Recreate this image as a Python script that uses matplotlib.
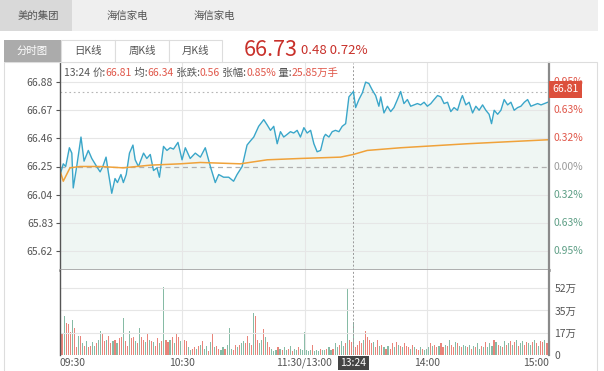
import matplotlib.pyplot as plt
import numpy as np
from matplotlib.patches import Rectangle

plt.rcParams['font.family'] = ['Noto Sans CJK SC', 'DejaVu Sans']

# ---- data ----
prev_close = 66.25
last_price = 66.73
chg, chg_pct = "0.48", "0.72%"

# price trace: minute index from 09:30 (trading minutes) and price
price_t = [0.3, 1.6, 2.8, 4.6, 5.8, 6.5, 8.2, 10.3, 11.8, 13.9, 15.6, 18.0, 19.7, 21.0,
           22.6, 23.8, 25.4, 27.0, 28.2, 29.9, 31.1, 32.5, 34.1, 35.8, 36.9, 38.5, 41.0,
           42.6, 44.3, 45.9, 47.6, 48.8, 50.8, 52.5, 54.1, 55.7, 57.9, 59.9, 61.5, 63.9,
           66.4, 68.9, 71.3, 73.8, 76.2, 77.9, 80.3, 82.8, 85.2, 86.9, 89.4, 91.8, 93.4,
           95.1, 97.5, 100.0, 101.7, 103.3, 104.9, 106.6, 108.2, 109.8, 111.5, 113.1,
           114.7, 116.4, 118.0, 119.7, 121.3, 123.0, 124.6, 126.2, 127.9, 129.5, 130.3,
           132.0, 133.6, 135.2, 136.9, 138.5, 140.2, 141.8, 144.0, 145.1, 146.7, 148.4,
           150.0, 151.6, 153.3, 154.9, 156.5, 157.4, 159.0, 160.7, 162.3, 163.9, 165.6,
           167.2, 168.8, 170.5, 172.1, 173.8, 175.4, 177.0, 178.7, 180.3, 182.0, 183.6,
           185.3, 186.9, 188.5, 190.2, 191.8, 193.4, 195.1, 196.7, 197.5, 199.2, 200.8,
           202.5, 204.1, 205.7, 207.4, 209.0, 210.6, 211.8, 213.1, 214.8, 216.4, 218.0,
           219.7, 221.3, 222.9, 224.6, 226.2, 227.9, 229.5, 231.1, 232.8, 234.4, 236.1,
           237.7, 239.4, 240.0]
price_v = [66.20, 66.27, 66.25, 66.39, 66.35, 66.09, 66.25, 66.47, 66.29, 66.37, 66.31,
           66.25, 66.21, 66.25, 66.32, 66.20, 66.05, 66.16, 66.13, 66.19, 66.13, 66.19,
           66.35, 66.41, 66.30, 66.25, 66.35, 66.31, 66.34, 66.22, 66.24, 66.17, 66.40,
           66.37, 66.39, 66.38, 66.43, 66.30, 66.39, 66.31, 66.35, 66.32, 66.39, 66.25,
           66.13, 66.19, 66.17, 66.17, 66.14, 66.19, 66.25, 66.41, 66.44, 66.47, 66.55,
           66.60, 66.56, 66.52, 66.55, 66.42, 66.51, 66.47, 66.49, 66.51, 66.50, 66.52,
           66.47, 66.54, 66.50, 66.52, 66.42, 66.36, 66.37, 66.47, 66.49, 66.47, 66.51,
           66.52, 66.51, 66.55, 66.57, 66.77, 66.81, 66.69, 66.75, 66.80, 66.88, 66.87,
           66.82, 66.78, 66.70, 66.77, 66.65, 66.70, 66.66, 66.69, 66.75, 66.81, 66.72,
           66.75, 66.70, 66.71, 66.72, 66.71, 66.73, 66.70, 66.72, 66.75, 66.78, 66.77,
           66.72, 66.73, 66.66, 66.69, 66.67, 66.75, 66.78, 66.71, 66.73, 66.65, 66.70,
           66.67, 66.71, 66.67, 66.64, 66.57, 66.67, 66.64, 66.67, 66.75, 66.71, 66.73,
           66.67, 66.69, 66.70, 66.73, 66.75, 66.70, 66.71, 66.72, 66.71, 66.72, 66.73,
           66.73]

# average price trace
avg_t = [0.0, 1.6, 4.9, 9.8, 19.7, 31.0, 44.3, 59.0, 68.9, 88.5, 101.7, 118.0, 137.7,
         144.0, 150.8, 167.2, 200.0, 240.0]
avg_v = [66.22, 66.14, 66.24, 66.25, 66.25, 66.24, 66.26, 66.27, 66.28, 66.27, 66.30,
         66.31, 66.32, 66.34, 66.37, 66.39, 66.42, 66.45]

# volume per minute, 万手 (09:30 .. 11:30, 13:01 .. 15:00)
volume = [29, 17, 30, 25, 24, 18, 27, 21, 6, 15,
          15, 9, 7, 11, 6, 7, 10, 7, 9, 12,
          19, 16, 11, 12, 15, 9, 11, 12, 9, 13,
          14, 29, 11, 7, 19, 13, 14, 11, 9, 21,
          14, 12, 10, 17, 12, 11, 10, 7, 13, 9,
          11, 53, 12, 10, 12, 14, 9, 17, 14, 11,
          14, 12, 11, 6, 4, 5, 6, 5, 7, 8,
          11, 5, 7, 3, 10, 16, 6, 7, 5, 4,
          6, 5, 8, 21, 5, 4, 8, 6, 8, 9,
          11, 9, 15, 9, 8, 33, 30, 12, 9, 12,
          20, 14, 10, 6, 5, 3, 4, 6, 5, 4,
          6, 4, 5, 7, 3, 5, 4, 6, 5, 4,
          18,
          4, 3, 4, 8, 3, 4, 3, 5, 4, 4,
          5, 6, 4, 5, 9, 6, 8, 11, 7, 9,
          52, 12, 10, 26, 6, 8, 11, 9, 12, 19,
          14, 12, 9, 10, 6, 12, 7, 8, 6, 5,
          7, 5, 9, 6, 10, 8, 7, 6, 9, 7,
          6, 5, 8, 6, 5, 4, 6, 5, 4, 5,
          6, 9, 7, 8, 6, 7, 9, 6, 8, 7,
          12, 8, 6, 10, 9, 7, 6, 8, 7, 6,
          8, 5, 7, 6, 9, 5, 7, 6, 10, 6,
          9, 7, 12, 10, 8, 7, 6, 11, 8, 9,
          11, 8, 10, 12, 7, 9, 11, 8, 10, 9,
          8, 10, 12, 9, 7, 11, 10, 12, 9, 53]
vol_dir = ("grgrrrgrrg" "rgrgrrggrg" "grrgrrgrgr" "rgrrgrrgrg" "rrgrgrgrrg" "rgrrgrgrrg"
           "grrggrrgrg" "rggrgrgrrg" "grgggrrgrg" "grrgrgrrgg" "rgrrgggrgr" "ggrgrggrgg"
           "g"
           "gggrgggrgg" "rggrggrggr" "grrgrrrrgr" "rrrgrrgrgr" "grrgrgrgrr" "rgrgrrgrgg"
           "grgrrgrrgr" "grrgrgrggr" "grgrggrgrg" "ggrgrgrgrg" "rgrgrggrrg" "grgrgrrgrg")

price_ticks = [66.88, 66.67, 66.46, 66.25, 66.04, 65.83, 65.62]
pct_labels = ["0.95%", "0.63%", "0.32%", "0.00%", "0.32%", "0.63%", "0.95%"]
vol_ticks = [0, 17.3, 34.7, 52.0]
vol_labels = ["0", "17万", "35万", "52万"]
time_ticks = [0, 60, 120, 180, 240]
time_labels = ["09:30", "10:30", "11:30/13:00", "14:00", "15:00"]

cursor_t = 144
cursor_price = 66.81
cursor_label = "13:24"
info = [("13:24 ", "#555555"), ("价:", "#555555"), ("66.81", "#e0574a"),
        (" 均:", "#555555"), ("66.34", "#e0574a"), (" 张跌:", "#555555"),
        ("0.56", "#e0574a"), (" 张幅:", "#555555"), ("0.85%", "#e0574a"),
        (" 量:", "#555555"), ("25.85万手", "#e0574a")]

# ---- colors ----
RED = "#e0574a"
GREEN = "#5d9e85"
LINE = "#3aa6c9"
AVG = "#f0a23a"
GRID = "#e6e6e6"

W, H = 604, 371
fig = plt.figure(figsize=(W / 100, H / 100), dpi=100)


def fx(x):
    return x / W


def fy(y):
    return 1 - y / H


def rect(x0, y0, x1, y1, **kw):
    fig.patches.append(Rectangle((fx(x0), fy(y1)), fx(x1) - fx(x0), fy(y0) - fy(y1),
                                 transform=fig.transFigure, **kw))


# top tab bar
rect(0, 0, 598, 31, facecolor="#efefef", edgecolor="none")
rect(0, 0, 72, 31, facecolor="#d9d9d9", edgecolor="none")
fig.text(fx(38), fy(16), "美的集团", ha="center", va="center", fontsize=7.5, color="#555555")
fig.text(fx(127), fy(16), "海信家电", ha="center", va="center", fontsize=7.5, color="#555555")
fig.text(fx(214), fy(16), "海信家电", ha="center", va="center", fontsize=7.5, color="#555555")

# second row tabs
rect(4, 62, 597, 380, facecolor="none", edgecolor="#dddddd", lw=0.8)
rect(4, 40, 61, 62, facecolor="#ababab", edgecolor="none")
fig.text(fx(32), fy(51), "分时图", ha="center", va="center", fontsize=7.5, color="white")
for x0, x1, lab in [(61, 115, "日K线"), (115, 169, "周K线"), (169, 222, "月K线")]:
    rect(x0, 40, x1, 62, facecolor="white", edgecolor="#dddddd", lw=0.8)
    fig.text(fx((x0 + x1) / 2), fy(51), lab, ha="center", va="center", fontsize=7.5,
             color="#555555")
fig.text(fx(244), fy(50), f"{last_price:.2f}", ha="left", va="center", fontsize=15.5,
         color="#c8302a")
fig.text(fx(301), fy(51), f"{chg} {chg_pct}", ha="left", va="center", fontsize=9.5,
         color="#c8302a")

# ---- price axes ----
ppx = 133.9  # px per yuan
ylo = prev_close - (270 - 166.5) / ppx
yhi = prev_close + (166.5 - 63) / ppx
ax = fig.add_axes([fx(60), fy(270), fx(549) - fx(60), fy(63) - fy(270)])
ax.set_xlim(0, 240)
ax.set_ylim(ylo, yhi)
ax.fill_between(price_t, price_v, ylo, color="#eff6f3", lw=0)
for p in price_ticks:
    if p == prev_close:
        ax.axhline(p, color="#b0b0b0", lw=0.9, ls=(0, (4, 3)))
    else:
        ax.axhline(p, color=GRID, lw=0.8)
for t in time_ticks[1:4]:
    ax.axvline(t, color=GRID, lw=0.8)
ax.axhline(cursor_price, color="#b5b5b5", lw=0.8, ls=(0, (1.5, 2.5)))
ax.axvline(cursor_t, color="#999999", lw=0.7, ls=(0, (2, 2)))
ax.plot(price_t, price_v, color=LINE, lw=1.0)
ax.plot(avg_t, avg_v, color=AVG, lw=1.1)

ax.set_xticks([])
ax.set_yticks(price_ticks)
ax.set_yticklabels([f"{p:.2f}" for p in price_ticks])
ax.tick_params(axis="y", length=3, width=0.8, color="#555555", labelsize=7.5,
               labelcolor="#555555", pad=2)
ax.spines["left"].set_color("#555555")
ax.spines["left"].set_linewidth(1)
ax.spines["right"].set_color("#8a8a8a")
ax.spines["right"].set_linewidth(1.6)
ax.spines["bottom"].set_color("#a8a8a8")
ax.spines["bottom"].set_linewidth(2)
ax.spines["top"].set_visible(False)

for p, lab in zip(price_ticks, pct_labels):
    c = RED if p > prev_close else (GREEN if p < prev_close else "#9a9a9a")
    ax.annotate(lab, xy=(1, p), xycoords=("axes fraction", "data"), xytext=(3, 0),
                textcoords="offset points", ha="left", va="center", fontsize=7.5, color=c)
ax.annotate(f"{cursor_price:.2f}", xy=(1, cursor_price), xycoords=("axes fraction", "data"),
            xytext=(2.5, 1.5), textcoords="offset points", ha="left", va="center",
            fontsize=7.5, color="white",
            bbox=dict(boxstyle="square,pad=0.3", fc="#dc4f3c", ec="none"))

# info line at top of price area
renderer = fig.canvas.get_renderer()
xpos = 64
for s, c in info:
    tx = fig.text(fx(xpos), fy(73), s, ha="left", va="center", fontsize=7.5, color=c)
    xpos += tx.get_window_extent(renderer).width

# ---- volume axes ----
vx = np.arange(len(volume))
vcol = ["#e9847a" if d == "r" else "#86bba5" for d in vol_dir]
av = fig.add_axes([fx(60), fy(355), fx(549) - fx(60), fy(270) - fy(355)])
av.set_xlim(0, 240)
av.set_ylim(0, 66.2)
for v in vol_ticks[1:]:
    av.axhline(v, color=GRID, lw=0.8)
for t in time_ticks[1:4]:
    av.axvline(t, color=GRID, lw=0.8)
av.bar(vx, volume, width=0.55, color=vcol, lw=0)
av.axvline(cursor_t, color="#999999", lw=0.7, ls=(0, (2, 2)))
av.set_xticks([])
av.yaxis.tick_right()
av.set_yticks(vol_ticks)
av.set_yticklabels(vol_labels)
av.tick_params(axis="y", length=0, labelsize=7.5, labelcolor="#555555", pad=4)
av.spines["left"].set_color("#555555")
av.spines["left"].set_linewidth(1)
av.spines["right"].set_color("#8a8a8a")
av.spines["right"].set_linewidth(1.6)
av.spines["top"].set_visible(False)
av.spines["bottom"].set_visible(False)

# time labels
for t, lab in zip(time_ticks, time_labels):
    ha = "left" if t == 0 else ("right" if t == 240 else "center")
    av.annotate(lab, xy=(t, 0), xycoords=("data", "axes fraction"), xytext=(0, -2),
                textcoords="offset points", ha=ha, va="top", fontsize=7.5, color="#555555")
av.annotate(cursor_label, xy=(cursor_t, 0), xycoords=("data", "axes fraction"),
            xytext=(0, -2), textcoords="offset points", ha="center", va="top",
            fontsize=7.5, color="white",
            bbox=dict(boxstyle="square,pad=0.2", fc="#444444", ec="none"))

fig.savefig("out.png", dpi=100)
